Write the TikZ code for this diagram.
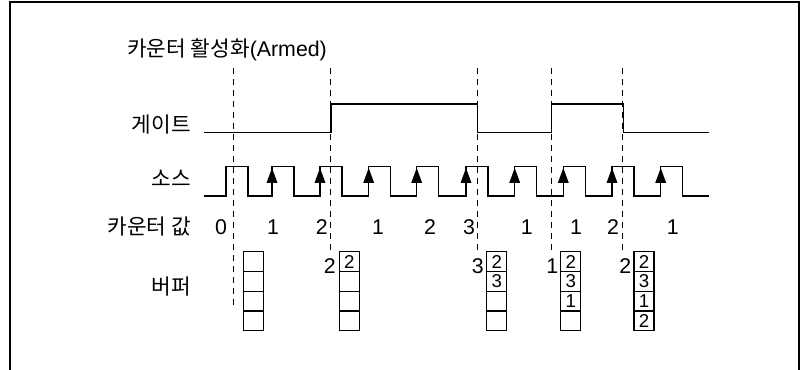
\documentclass[tikz,border=0pt]{standalone}
\usepackage{fontspec}
\setmainfont{Liberation Sans}
\newfontfamily\kr{Noto Sans CJK KR}
\begin{document}
\begin{tikzpicture}[x=0.75pt,y=-0.75pt,
  lbl/.style={font=\fontsize{16}{18}\selectfont, inner sep=0pt, anchor=east},
  val/.style={font=\fontsize{16}{18}\selectfont, inner sep=0pt},
  cell/.style={draw, line width=0.95pt, minimum width=15pt, minimum height=14.8pt, inner sep=0pt, font=\fontsize{14}{14}\selectfont},
  wave/.style={line width=0.95pt, line join=miter},
  dashmark/.style={line width=0.85pt, dash pattern=on 4.5pt off 3.75pt},
  tri/.style={fill=black}]
\useasboundingbox (0,0) rectangle (802,370);
% frame (open at the bottom)
\draw[line width=1.6pt] (10,370) -- (10,2) -- (799,2) -- (799,370);

% labels
\node[val, anchor=west] (armed) at (127,50) {{\kr 카운터 활성화}(Armed)};
\node[lbl] (gate) at (191,125) {\kr 게이트};
\node[lbl] (src) at (191,178) {\kr 소스};
\node[lbl] (cnt) at (191,227) {\kr 카운터 값};
\node[lbl] (buf) at (191,287) {\kr 버퍼};

% gate
\draw[wave] (204,132.7) -- (331,132.7) -- (331,104) -- (477.7,104) -- (477.7,132.7)
  -- (551.7,132.7) -- (551.7,104) -- (623.3,104) -- (623.3,132.7) -- (708.7,132.7);

% source
\draw[wave] (204,196)
  \foreach \r in {226,272,320,368.7,416.7,466,514.7,563.3,612,660.7}{
    -- (\r,196) -- (\r,166.7) -- ({\r+22},166.7) -- ({\r+22},196)}
  -- (708.7,196);
\foreach \r in {272,320,368.7,416.7,466,514.7,563.3,612,660.7}{
  \fill[tri] (\r,168) -- ({\r+5.5},183) -- ({\r-5.5},183) -- cycle;
}

% dashed markers
\coordinate (d1t) at (233.7,68); \coordinate (d1b) at (233.7,308);
\coordinate (d2t) at (330.7,68); \coordinate (d2b) at (330.7,252);
\coordinate (d3t) at (477.7,68); \coordinate (d3b) at (477.7,252);
\coordinate (d4t) at (551.7,68); \coordinate (d4b) at (551.7,252);
\coordinate (d5t) at (622.7,68); \coordinate (d5b) at (622.7,252);
\foreach \i in {1,...,5}{\draw[dashmark] (d\i t) -- (d\i b);}

% counter values
\node[val] (v1) at (221,227) {0};
\node[val] (v2) at (273,227) {1};
\node[val] (v3) at (321.7,227) {2};
\node[val] (v4) at (378,227) {1};
\node[val] (v5) at (430,227) {2};
\node[val] (v6) at (469,227) {3};
\node[val] (v7) at (526.7,227) {1};
\node[val] (v8) at (576,227) {1};
\node[val] (v9) at (613,227) {2};
\node[val] (v10) at (672.7,227) {1};

% buffers
\foreach \b/\x/\a/\bb/\c/\d in {1/253.3/{}/{}/{}/{}, 2/349.3/2/{}/{}/{}, 3/496.7/2/3/{}/{}, 4/570.7/2/3/1/{}, 5/644/2/3/1/2}{
  \node[cell] (b\b c1) at (\x,261.6) {\a};
  \node[cell] (b\b c2) at (\x,281.3) {\bb};
  \node[cell] (b\b c3) at (\x,301.1) {\c};
  \node[cell] (b\b c4) at (\x,320.8) {\d};
}
\node[val, anchor=east] (s2) at (336,266) {2};
\node[val, anchor=east] (s3) at (484,266) {3};
\node[val, anchor=east] (s4) at (558.5,266) {1};
\node[val, anchor=east] (s5) at (631.5,266) {2};
\end{tikzpicture}
\end{document}
